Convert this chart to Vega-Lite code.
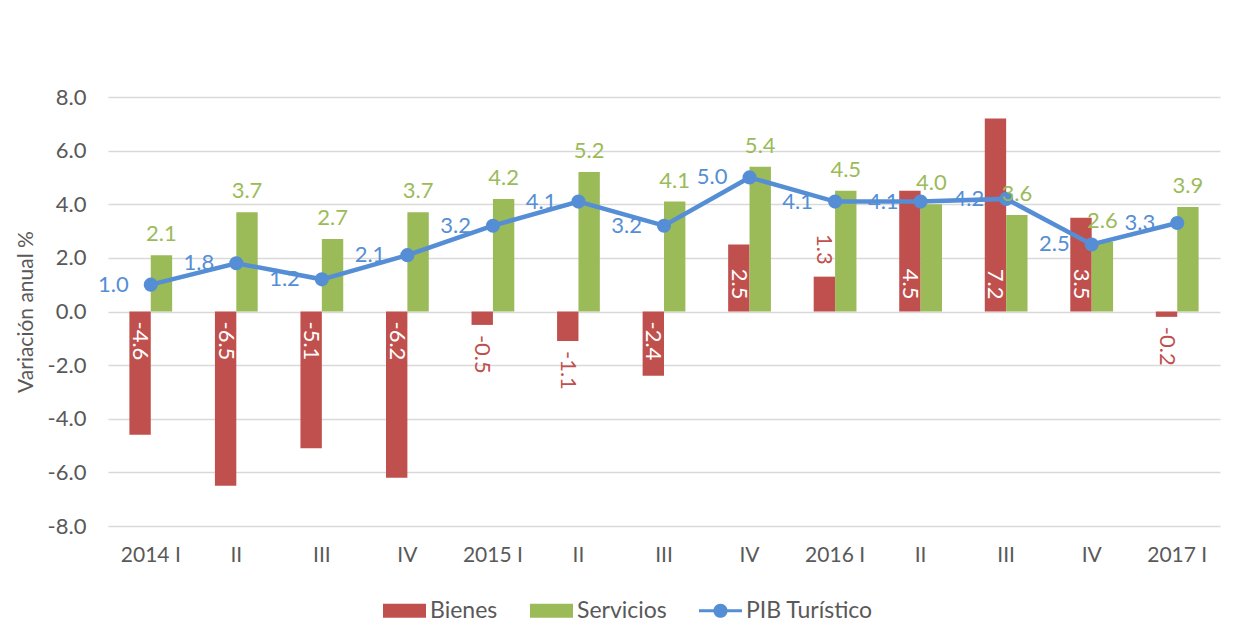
{
  "$schema": "https://vega.github.io/schema/vega-lite/v6.json",
  "width": 1112,
  "height": 429,
  "autosize": {"type": "none"},
  "padding": {"left": 108, "top": 97, "right": 29, "bottom": 113},
  "background": "white",
  "config": {
    "view": {"stroke": null},
    "font": "Lato",
    "locale": {"number": {"decimal": ".", "thousands": ",", "grouping": [3], "currency": ["$", ""], "minus": "-"}}
  },
  "data": {
    "values": [
      {"t": "2014 I", "serie": "Bienes", "v": -4.6},
      {"t": "2014 II", "serie": "Bienes", "v": -6.5},
      {"t": "2014 III", "serie": "Bienes", "v": -5.1},
      {"t": "2014 IV", "serie": "Bienes", "v": -6.2},
      {"t": "2015 I", "serie": "Bienes", "v": -0.5},
      {"t": "2015 II", "serie": "Bienes", "v": -1.1},
      {"t": "2015 III", "serie": "Bienes", "v": -2.4},
      {"t": "2015 IV", "serie": "Bienes", "v": 2.5},
      {"t": "2016 I", "serie": "Bienes", "v": 1.3},
      {"t": "2016 II", "serie": "Bienes", "v": 4.5},
      {"t": "2016 III", "serie": "Bienes", "v": 7.2},
      {"t": "2016 IV", "serie": "Bienes", "v": 3.5},
      {"t": "2017 I", "serie": "Bienes", "v": -0.2},
      {"t": "2014 I", "serie": "Servicios", "v": 2.1},
      {"t": "2014 II", "serie": "Servicios", "v": 3.7},
      {"t": "2014 III", "serie": "Servicios", "v": 2.7},
      {"t": "2014 IV", "serie": "Servicios", "v": 3.7},
      {"t": "2015 I", "serie": "Servicios", "v": 4.2},
      {"t": "2015 II", "serie": "Servicios", "v": 5.2},
      {"t": "2015 III", "serie": "Servicios", "v": 4.1},
      {"t": "2015 IV", "serie": "Servicios", "v": 5.4},
      {"t": "2016 I", "serie": "Servicios", "v": 4.5},
      {"t": "2016 II", "serie": "Servicios", "v": 4.0},
      {"t": "2016 III", "serie": "Servicios", "v": 3.6},
      {"t": "2016 IV", "serie": "Servicios", "v": 2.6},
      {"t": "2017 I", "serie": "Servicios", "v": 3.9},
      {"t": "2014 I", "serie": "PIB Turístico", "v": 1.0},
      {"t": "2014 II", "serie": "PIB Turístico", "v": 1.8},
      {"t": "2014 III", "serie": "PIB Turístico", "v": 1.2},
      {"t": "2014 IV", "serie": "PIB Turístico", "v": 2.1},
      {"t": "2015 I", "serie": "PIB Turístico", "v": 3.2},
      {"t": "2015 II", "serie": "PIB Turístico", "v": 4.1},
      {"t": "2015 III", "serie": "PIB Turístico", "v": 3.2},
      {"t": "2015 IV", "serie": "PIB Turístico", "v": 5.0},
      {"t": "2016 I", "serie": "PIB Turístico", "v": 4.1},
      {"t": "2016 II", "serie": "PIB Turístico", "v": 4.1},
      {"t": "2016 III", "serie": "PIB Turístico", "v": 4.2},
      {"t": "2016 IV", "serie": "PIB Turístico", "v": 2.5},
      {"t": "2017 I", "serie": "PIB Turístico", "v": 3.3}
    ]
  },
  "encoding": {
    "x": {
      "field": "t",
      "type": "nominal",
      "sort": null,
      "scale": {
        "domain": ["2014 I","2014 II","2014 III","2014 IV","2015 I","2015 II","2015 III","2015 IV","2016 I","2016 II","2016 III","2016 IV","2017 I"],
        "paddingInner": 0.5,
        "paddingOuter": 0.25
      },
      "axis": {
        "title": null,
        "labelAngle": 0,
        "labelExpr": "split(datum.label, ' ')[1] == 'I' ? datum.label : split(datum.label, ' ')[1]",
        "labelFontSize": 21,
        "labelColor": "#595959",
        "labelPadding": 18,
        "ticks": false,
        "domain": false,
        "grid": false
      }
    },
    "y": {
      "field": "v",
      "type": "quantitative",
      "scale": {"domain": [-8, 8], "nice": false},
      "axis": {
        "title": "Variación anual %",
        "titleFontSize": 21,
        "titleFontWeight": "normal",
        "titleColor": "#595959",
        "titlePadding": 11,
        "values": [-8, -6, -4, -2, 0, 2, 4, 6, 8],
        "format": ".1f",
        "labelFontSize": 22,
        "labelColor": "#595959",
        "labelPadding": 22,
        "ticks": false,
        "domain": false,
        "gridColor": "#D9D9D9",
        "gridWidth": 1.3
      }
    }
  },
  "layer": [
    {
      "transform": [{"filter": "datum.serie != 'PIB Turístico'"}],
      "mark": {"type": "bar"},
      "encoding": {
        "xOffset": {"field": "serie", "type": "nominal", "scale": {"domain": ["Bienes", "Servicios"], "paddingInner": 0, "paddingOuter": 0}},
        "color": {
          "field": "serie",
          "type": "nominal",
          "scale": {"domain": ["Bienes", "Servicios", "PIB Turístico"], "range": ["#C0504D", "#9BBB59", "#558ED5"]},
          "legend": {
            "orient": "none",
            "legendX": 275,
            "legendY": 492,
            "direction": "horizontal",
            "title": null,
            "symbolSize": 1849,
            "symbolStrokeWidth": 0,
            "labelFontSize": 23,
            "labelColor": "#595959",
            "labelOffset": 4,
            "columnPadding": 32,
            "encode": {
              "symbols": {
                "update": {
                  "shape": {"signal": "datum.value === 'PIB Turístico' ? 'M-1,-0.07H1V0.07H-1Z M0.33,0A0.33,0.33 0 1,1 -0.33,0A0.33,0.33 0 1,1 0.33,0Z' : 'M-1,-0.33H1V0.33H-1Z'"}
                }
              }
            }
          }
        }
      }
    },
    {
      "transform": [{"filter": "datum.serie == 'PIB Turístico'"}],
      "mark": {"type": "line", "color": "#558ED5", "strokeWidth": 4.5},
      "encoding": {}
    },
    {
      "transform": [{"filter": "datum.serie == 'PIB Turístico'"}],
      "mark": {"type": "point", "filled": true, "color": "#558ED5", "size": 200, "opacity": 1},
      "encoding": {}
    },
    {
      "transform": [{"filter": "datum.serie == 'Servicios'"}],
      "mark": {"type": "text", "color": "#9BBB59", "fontSize": 22, "baseline": "alphabetic", "align": "center", "dy": -14},
      "encoding": {
        "xOffset": {"field": "serie", "type": "nominal"},
        "text": {"field": "v", "type": "quantitative", "format": ".1f"}
      }
    },
    {
      "transform": [{"filter": "datum.serie == 'PIB Turístico'"}],
      "mark": {"type": "text", "color": "#558ED5", "fontSize": 22, "baseline": "middle", "align": "right", "dx": -22},
      "encoding": {
        "text": {"field": "v", "type": "quantitative", "format": ".1f"}
      }
    },
    {
      "transform": [{"filter": "datum.serie == 'Bienes' && datum.v <= -2"}],
      "mark": {"type": "text", "color": "white", "fontSize": 22, "baseline": "middle", "align": "left", "angle": 90, "dx": 10},
      "encoding": {
        "xOffset": {"field": "serie", "type": "nominal"},
        "y": {"datum": 0, "type": "quantitative"},
        "text": {"field": "v", "type": "quantitative", "format": ".1f"}
      }
    },
    {
      "transform": [{"filter": "datum.serie == 'Bienes' && datum.v >= 2"}],
      "mark": {"type": "text", "color": "white", "fontSize": 22, "baseline": "middle", "align": "right", "angle": 90, "dx": -12},
      "encoding": {
        "xOffset": {"field": "serie", "type": "nominal"},
        "y": {"datum": 0, "type": "quantitative"},
        "text": {"field": "v", "type": "quantitative", "format": ".1f"}
      }
    },
    {
      "transform": [{"filter": "datum.serie == 'Bienes' && datum.v < 0 && datum.v > -2"}],
      "mark": {"type": "text", "color": "#C0504D", "fontSize": 22, "baseline": "middle", "align": "left", "angle": 90, "dx": 10},
      "encoding": {
        "xOffset": {"field": "serie", "type": "nominal"},
        "text": {"field": "v", "type": "quantitative", "format": ".1f"}
      }
    },
    {
      "transform": [{"filter": "datum.serie == 'Bienes' && datum.v > 0 && datum.v < 2"}],
      "mark": {"type": "text", "color": "#C0504D", "fontSize": 22, "baseline": "middle", "align": "right", "angle": 90, "dx": -12},
      "encoding": {
        "xOffset": {"field": "serie", "type": "nominal"},
        "text": {"field": "v", "type": "quantitative", "format": ".1f"}
      }
    }
  ]
}
